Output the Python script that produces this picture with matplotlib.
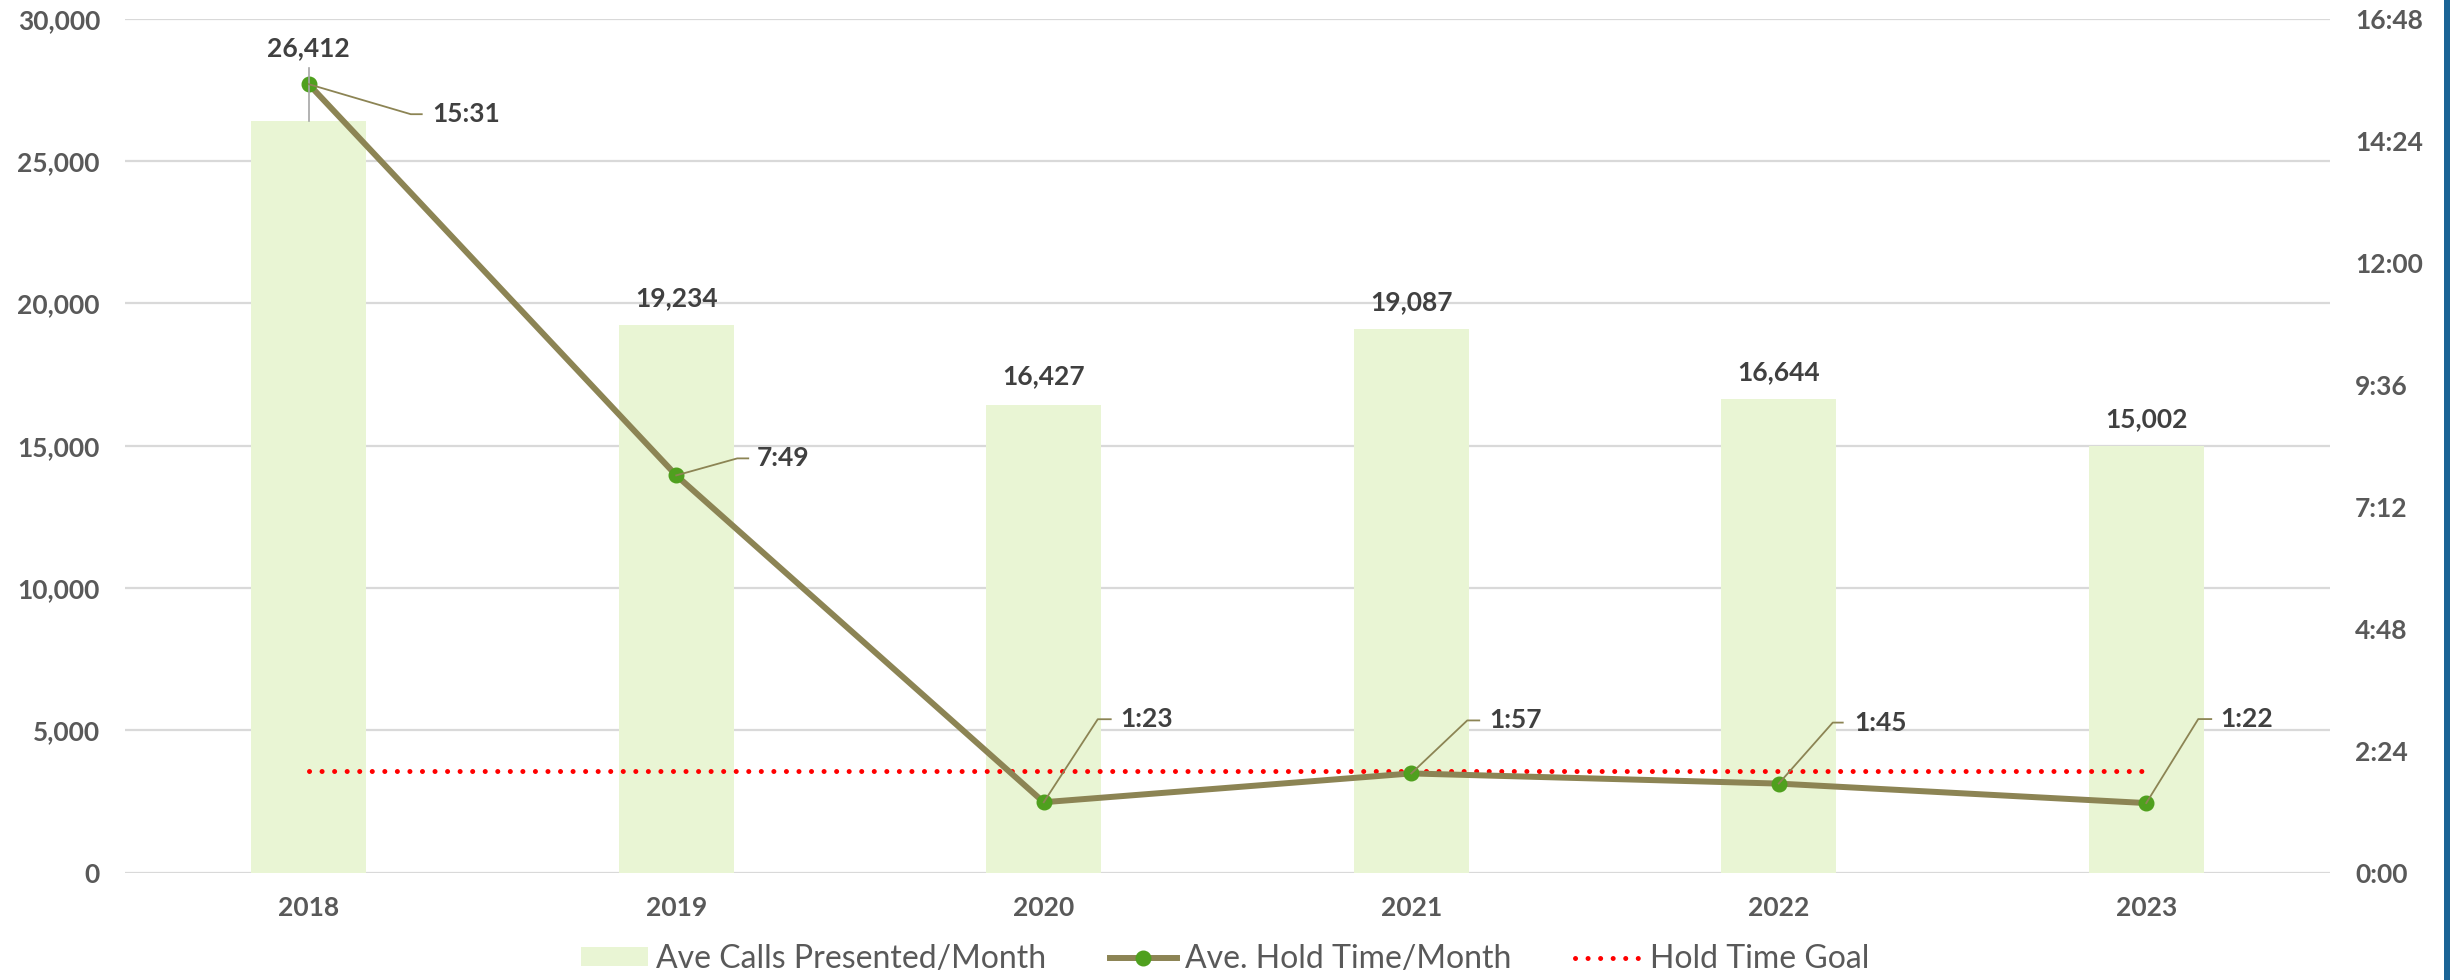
import matplotlib
matplotlib.use("Agg")
import matplotlib.pyplot as plt
from matplotlib.lines import Line2D
from matplotlib.patches import Patch, Rectangle
from matplotlib.transforms import IdentityTransform
from matplotlib.ticker import FixedLocator, FuncFormatter

plt.rcParams['font.family'] = ['Lato', 'DejaVu Sans']

# ---- data ----
years = ["2018", "2019", "2020", "2021", "2022", "2023"]
calls = [26412, 19234, 16427, 19087, 16644, 15002]
hold_seconds = [931, 469, 83, 117, 105, 82]          # 15:31, 7:49, 1:23, 1:57, 1:45, 1:22
goal_seconds = [120, 120, 120, 120, 120, 120]        # 2:00
left_ticks = [0, 5000, 10000, 15000, 20000, 25000, 30000]
right_ticks = [0, 144, 288, 432, 576, 720, 864, 1008]  # 0:00 ... 16:48

# ---- styles / layout ----
W, H = 2450, 980
BAR_COLOR = "#E9F5D4"
LINE_COLOR = "#8C8454"
MARKER_COLOR = "#4FA01E"
GOAL_COLOR = "#FF0000"
TICK_COLOR = "#595959"
LABEL_COLOR = "#404040"
GRID_COLOR = "#D9D9D9"

def mmss(v):
    v = int(round(v))
    return f"{v // 60}:{v % 60:02d}"

fig = plt.figure(figsize=(W / 100, H / 100), dpi=100)
ax = fig.add_axes([125 / W, (H - 872.5) / H, (2330 - 125) / W, 853.5 / H])
ax2 = ax.twinx()
ax2.set_position(ax.get_position())

x = list(range(len(years)))
ax.bar(x, calls, width=0.313, color=BAR_COLOR, zorder=2)
ax.set_xlim(-0.5, len(years) - 0.5)
ax.set_ylim(0, 30000)
ax.yaxis.set_major_locator(FixedLocator(left_ticks))
ax.yaxis.set_major_formatter(FuncFormatter(lambda v, p: f"{int(v):,}"))
ax.set_xticks(x)
ax.set_xticklabels(years)
ax.grid(axis='y', color=GRID_COLOR, linewidth=1.6, zorder=0)
ax.set_axisbelow(True)
for s in ax.spines.values():
    s.set_visible(False)
for s in ax2.spines.values():
    s.set_visible(False)
ax.tick_params(axis='both', length=0, labelsize=19, labelcolor=TICK_COLOR)
ax.tick_params(axis='y', pad=18)
ax.tick_params(axis='x', pad=17)
for t in ax.get_xticklabels() + ax.get_yticklabels():
    t.set_fontweight('bold')

ax2.set_ylim(0, 1008)
ax2.yaxis.set_major_locator(FixedLocator(right_ticks))
ax2.yaxis.set_major_formatter(FuncFormatter(lambda v, p: mmss(v)))
ax2.tick_params(axis='y', length=0, labelsize=19, labelcolor=TICK_COLOR, pad=18)
for t in ax2.get_yticklabels():
    t.set_fontweight('bold')

ax2.plot(x, goal_seconds, color=GOAL_COLOR, lw=3.6, linestyle=(0, (0.01, 2.5)),
         dash_capstyle='round', zorder=3)
ax2.plot(x, hold_seconds, color=LINE_COLOR, lw=4.3, marker='o', markersize=10.5,
         markerfacecolor=MARKER_COLOR, markeredgecolor=MARKER_COLOR, zorder=4)

# ---- bar value labels ----
bar_label_offsets = [73, 27, 29, 27, 27, 27]   # pixels above bar top
ident = IdentityTransform()
for i, v in enumerate(calls):
    px, py = ax.transData.transform((i, v))
    off = bar_label_offsets[i]
    fig.text(px, py + off, f"{v:,}", transform=ident, ha='center', va='center',
             fontsize=19, fontweight='bold', color=LABEL_COLOR)
    if off > 40:
        fig.add_artist(Line2D([px, px], [py, py + off - 20], transform=ident,
                              color="#A6A6A6", lw=1.2))

# ---- hold time labels with leader lines (pixel offsets: elbow dx, elbow dy, end dx, text dx) ----
hold_label_offsets = [
    (102, -30, 113, 124),
    (61, 17, 72, 81),
    (54, 83, 67, 77),
    (56, 53, 68, 78),
    (54, 61, 64, 75),
    (52, 84, 65, 74),
]
for i, v in enumerate(hold_seconds):
    px, py = ax2.transData.transform((i, v))
    ex, ey, endx, tx = hold_label_offsets[i]
    fig.add_artist(Line2D([px, px + ex, px + endx], [py, py + ey, py + ey],
                          transform=ident, color=LINE_COLOR, lw=1.3, zorder=5))
    fig.text(px + tx, py + ey, mmss(v), transform=ident, ha='left', va='center',
             fontsize=19, fontweight='bold', color=LABEL_COLOR)

# ---- legend ----
handles = [
    Patch(facecolor=BAR_COLOR, edgecolor='none'),
    Line2D([], [], color=LINE_COLOR, lw=4.3, marker='o', markersize=10.5,
           markerfacecolor=MARKER_COLOR, markeredgecolor=MARKER_COLOR),
    Line2D([], [], color=GOAL_COLOR, lw=3.6, linestyle=(0, (0.01, 2.5)),
           dash_capstyle='round'),
]
labels = ["Ave Calls Presented/Month", "Ave. Hold Time/Month", "Hold Time Goal"]
leg = fig.legend(handles, labels, loc='center', bbox_to_anchor=(0.5, (H - 959) / H),
                 ncol=3, frameon=False, fontsize=23, handlelength=2.1, handleheight=0.53,
                 handletextpad=0.25, columnspacing=2.0, labelcolor=TICK_COLOR)

# right edge border strip
fig.add_artist(Rectangle((2444 / W, 0), 6 / W, 1, transform=fig.transFigure,
                         facecolor="#1A6496", edgecolor='none'))

fig.savefig("out.png", dpi=100)
